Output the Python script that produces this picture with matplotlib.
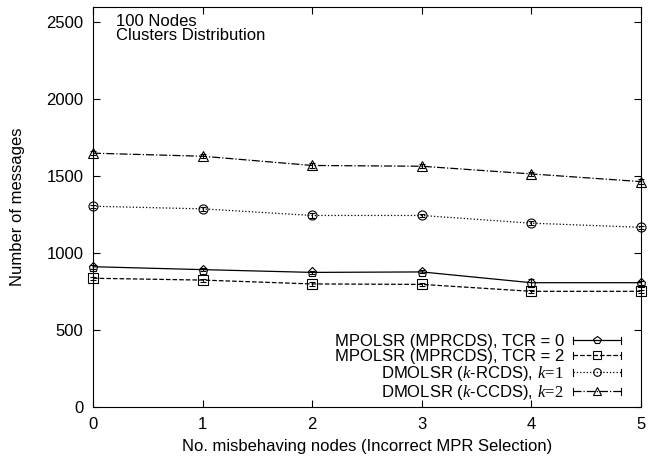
import matplotlib
matplotlib.use('Agg')
import matplotlib.pyplot as plt
from matplotlib.lines import Line2D
from matplotlib.legend_handler import HandlerLine2D

plt.rcParams['font.family'] = ['Liberation Sans', 'DejaVu Sans']
plt.rcParams['mathtext.fontset'] = 'custom'
plt.rcParams['mathtext.it'] = 'Liberation Serif:italic'
plt.rcParams['mathtext.rm'] = 'Liberation Serif'

# data
x = [0, 1, 2, 3, 4, 5]
tcr0 = [912, 893, 875, 878, 808, 808]
tcr0_err = [12, 10, 10, 10, 25, 12]
tcr2 = [837, 825, 800, 797, 752, 752]
tcr2_err = [10, 10, 12, 10, 10, 10]
rcds = [1305, 1288, 1245, 1245, 1195, 1168]
rcds_err = [10, 12, 14, 12, 14, 10]
ccds = [1650, 1630, 1570, 1565, 1515, 1465]
ccds_err = [12, 14, 14, 12, 14, 14]

labels = ['MPOLSR (MPRCDS), TCR = 0',
          'MPOLSR (MPRCDS), TCR = 2',
          r'DMOLSR ($k$-RCDS), $\mathit{k}\!=\!\mathit{1}$',
          r'DMOLSR ($k$-CCDS), $\mathit{k}\!=\!\mathit{2}$']

FS = 12


# legend sample like gnuplot: line with small end bars
class CapHandler(HandlerLine2D):
    def create_artists(self, legend, orig_handle, xdescent, ydescent,
                       width, height, fontsize, trans):
        arts = super().create_artists(legend, orig_handle, xdescent, ydescent,
                                      width, height, fontsize, trans)
        yc = (height - ydescent) / 2.
        for xe in (-xdescent, -xdescent + width):
            cap = Line2D([xe, xe], [yc - 2.6, yc + 2.6], color='black',
                         linewidth=0.8, transform=trans)
            arts.append(cap)
        return arts


fig = plt.figure(figsize=(6.51, 4.61), dpi=100)
ax = fig.add_axes([0.1429, 0.1171, 0.8417, 0.8677])

series = [(tcr0, tcr0_err, '-', 'p'),
          (tcr2, tcr2_err, '--', 's'),
          (rcds, rcds_err, ':', 'o'),
          (ccds, ccds_err, '-.', '^')]

handles = []
for (y, e, ls, mk), lab in zip(series, labels):
    ax.errorbar(x, y, yerr=e, color='black', linestyle=ls, linewidth=0.9,
                marker=mk, markersize=6.5, markerfacecolor='none',
                markeredgewidth=0.8, capsize=2.5, elinewidth=0.8,
                clip_on=False)
    handles.append(Line2D([], [], color='black', linestyle=ls, linewidth=0.9,
                          marker=mk, markersize=5.5, markerfacecolor='none',
                          markeredgewidth=0.8))

ax.set_xlim(0, 5)
ax.set_ylim(0, 2600)
ax.set_xticks(x)
ax.set_yticks([0, 500, 1000, 1500, 2000, 2500])
ax.tick_params(direction='in', top=True, right=True, labelsize=FS, length=5)
ax.tick_params(axis='x', pad=7)
ax.tick_params(axis='y', pad=7)
ax.set_xlabel('No. misbehaving nodes (Incorrect MPR Selection)', fontsize=FS)
ax.set_ylabel('Number of messages', fontsize=FS)
ax.xaxis.set_label_coords(0.5, -0.08)
ax.yaxis.set_label_coords(-0.125, 0.5)

ax.text(0.042, 0.982, '100 Nodes\nClusters Distribution', transform=ax.transAxes,
        ha='left', va='top', fontsize=FS, linespacing=0.88)

ax.legend(handles, labels, loc='lower right', frameon=False, markerfirst=False,
          fontsize=FS, handlelength=2.9, labelspacing=0.0, borderpad=0,
          borderaxespad=0, handletextpad=0.5,
          bbox_to_anchor=(0.9635, 0.012),
          handler_map={Line2D: CapHandler()})

fig.savefig('out.png', dpi=100)
